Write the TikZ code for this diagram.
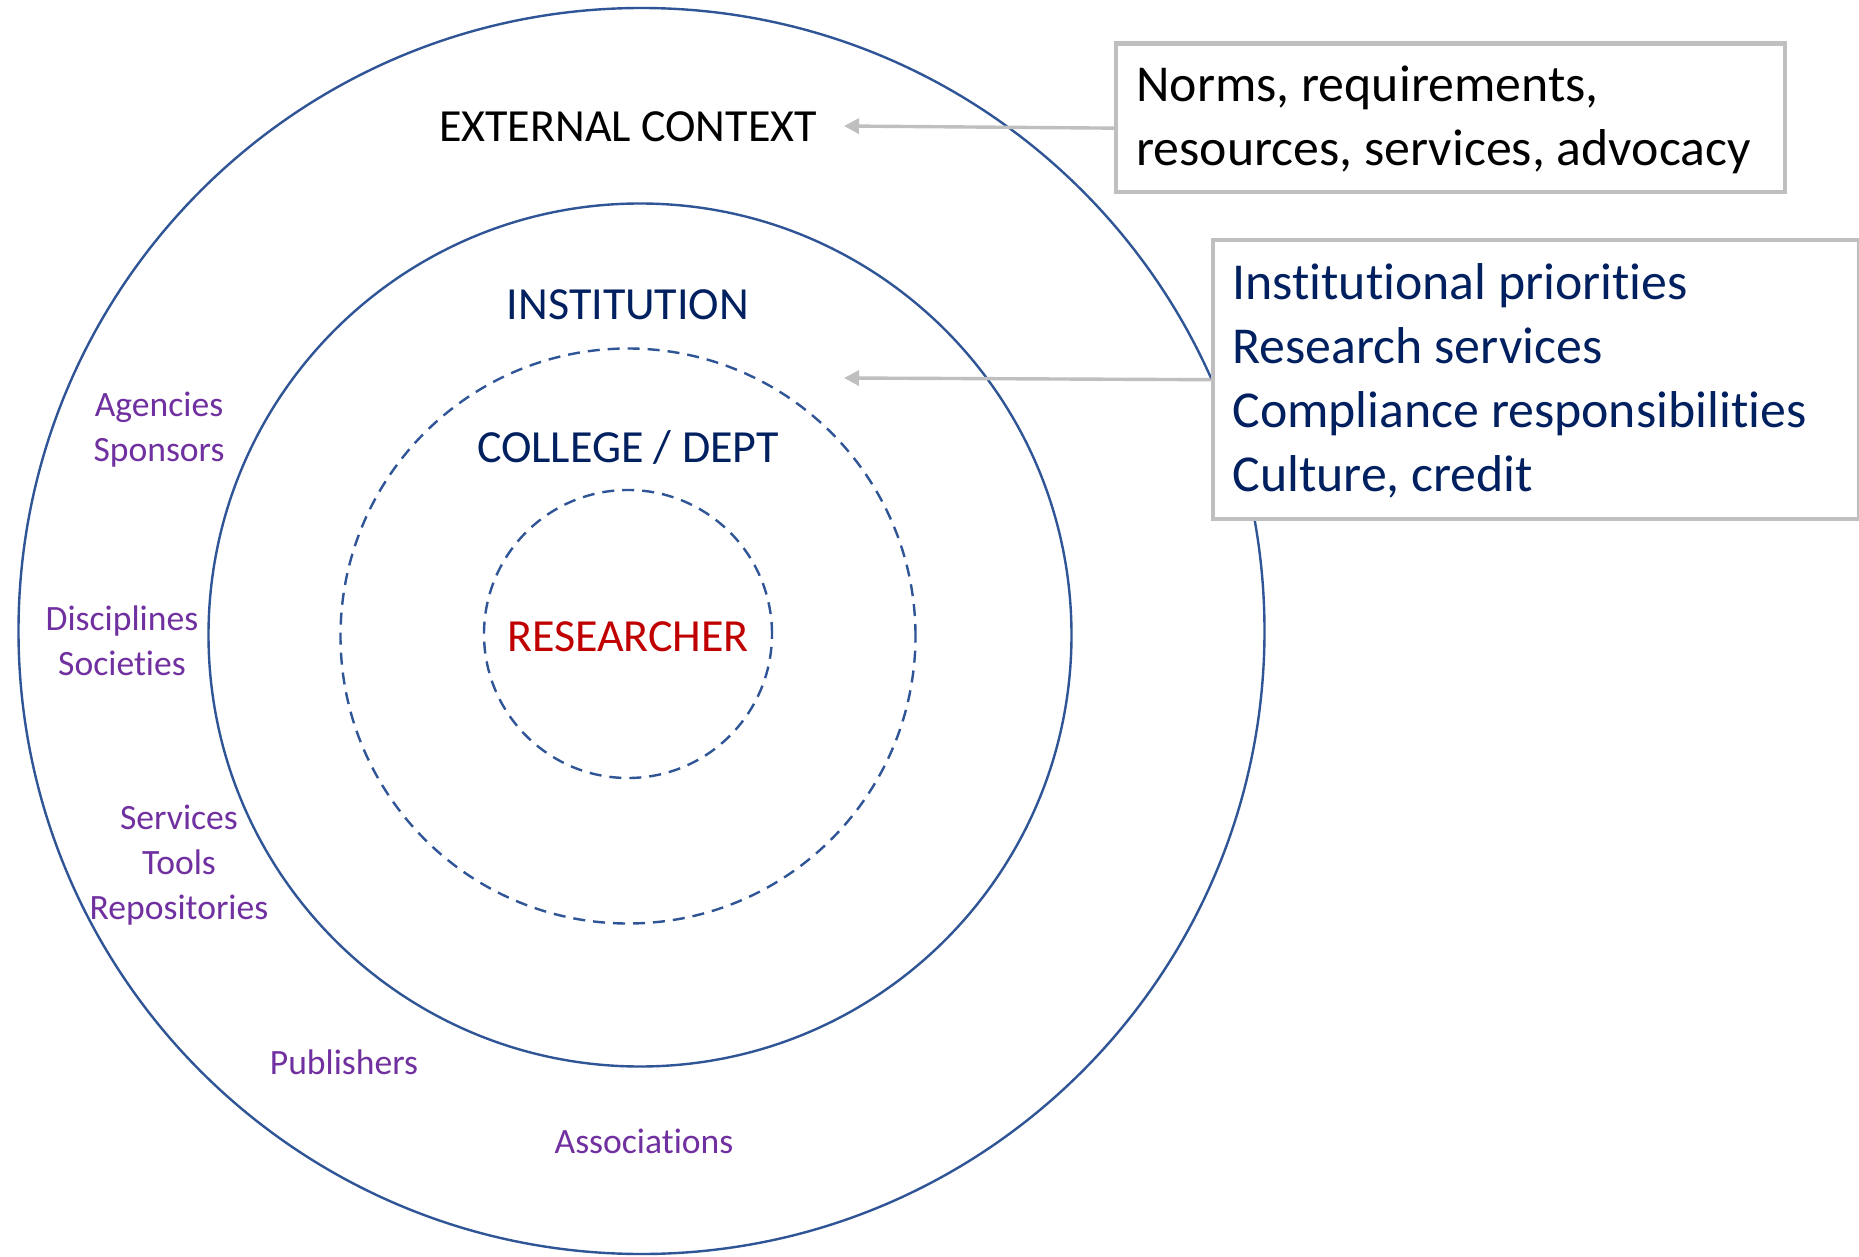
\documentclass[tikz,border=0pt]{standalone}
\usepackage{fontspec}
\setmainfont{Carlito}[Ligatures=NoCommon]
\usetikzlibrary{arrows.meta}
\definecolor{ringblue}{HTML}{2F5597}
\definecolor{navy}{HTML}{002060}
\definecolor{darkred}{HTML}{C00000}
\definecolor{lblpurple}{HTML}{7030A0}
\definecolor{boxgray}{HTML}{BFBFBF}
\tikzset{
  ring/.style={draw=ringblue, line width=1.2pt},
  dashring/.style={draw=ringblue, line width=1.2pt, dash pattern=on 6pt off 4pt},
  bigtitle/.style={font=\fontsize{23}{28}\selectfont, inner sep=0pt},
  sidelabel/.style={font=\fontsize{17.8}{22.5}\selectfont, text=lblpurple, align=center, inner sep=0pt},
  infobox/.style={draw=boxgray, line width=2.2pt, fill=white, anchor=north west, inner sep=0pt},
  infotext/.style={anchor=west, align=left, inner sep=0pt, font=\fontsize{25.9}{31.9}\selectfont},
  pointer/.style={draw=boxgray, line width=1.7pt, -{Triangle[length=7.5pt,width=7.5pt]}}
}
\begin{document}
\begin{tikzpicture}[x=0.5pt,y=-0.5pt]
\useasboundingbox[fill=white] (0,0) rectangle (1859,1257);
% rings
\draw[ring] (641.5,631) circle[radius=311.5pt];
\draw[ring] (640,635) circle[radius=215.75pt];
\draw[dashring] (628,636) circle[radius=143.75pt];
\draw[dashring] (628,634) circle[radius=72pt];
% ring titles
\node[bigtitle, text=black] (ext) at (628,127) {EXTERNAL CONTEXT};
\node[bigtitle, text=navy] (inst) at (628,305) {INSTITUTION};
\node[bigtitle, text=navy] (coll) at (628,448) {COLLEGE / DEPT};
\node[bigtitle, text=darkred] (res) at (628,637) {RESEARCHER};
% external actors
\node[sidelabel] (agen) at (159,430) {Agencies\\Sponsors};
\node[sidelabel] (disc) at (122,641) {Disciplines\\Societies};
\node[sidelabel] (serv) at (179,865) {Services\\Tools\\Repositories};
\node[sidelabel] (publ) at (344,1062) {Publishers};
\node[sidelabel] (assoc) at (644,1141) {Associations};
% info boxes
\node[infobox, minimum width=334.5pt, minimum height=74.25pt] (b1) at (1114,41.5) {};
\node[infotext, text=black] (b1t) at ([xshift=11pt,yshift=-0.8pt]b1.west)
  {Norms, requirements,\\resources, services, advocacy};
\node[infobox, minimum width=323.25pt, minimum height=139.5pt] (b2) at (1210.5,238) {};
\node[infotext, text=navy] (b2t) at ([xshift=10.75pt,yshift=-0.5pt]b2.west)
  {Institutional priorities\\Research services\\Compliance responsibilities\\Culture, credit};
% pointers
\coordinate (t1) at (844,126);
\coordinate (t2) at (844,378);
\draw[pointer] ([yshift=-5.1pt]b1.west) -- (t1);
\draw[pointer] (b2.west) -- (t2);
\end{tikzpicture}
\end{document}
